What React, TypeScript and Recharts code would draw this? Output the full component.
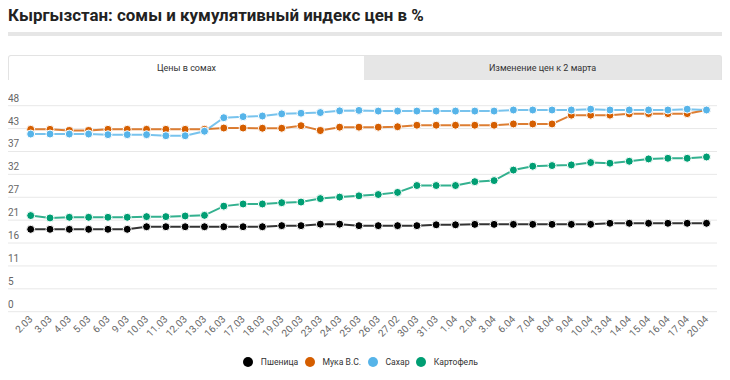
import React from "react";
import { LineChart, Line, XAxis, YAxis, CartesianGrid, Legend } from "recharts";

const dates = ["2.03","3.03","4.03","5.03","6.03","9.03","10.03","11.03","12.03","13.03","16.03","17.03","18.03","19.03","20.03","23.03","24.03","25.03","26.03","27.02","30.03","31.03","1.04","2.04","3.04","6.04","7.04","8.04","9.04","10.04","13.04","14.04","15.04","16.04","17.04","20.04"];

const wheat = [19.2,19.2,19.2,19.2,19.2,19.2,19.8,19.8,19.8,19.8,19.8,19.8,19.8,20.05,20.05,20.4,20.4,20.05,20.05,20.05,20.05,20.25,20.25,20.35,20.35,20.35,20.35,20.35,20.35,20.35,20.6,20.6,20.6,20.6,20.6,20.6];
const flour = [42.5,42.5,42.2,42.2,42.5,42.5,42.5,42.5,42.5,42.5,42.8,42.8,42.75,42.75,43.35,42.2,43.0,43.0,43.0,43.1,43.45,43.45,43.45,43.45,43.45,43.75,43.75,43.75,45.8,45.8,45.8,46.1,46.15,46.15,46.15,47.0];
const sugar = [41.4,41.4,41.4,41.4,41.25,41.25,41.25,41.0,41.0,42.05,45.2,45.45,45.6,46.1,46.25,46.4,46.8,46.9,46.75,46.75,46.75,46.75,46.75,46.75,46.75,47.0,47.0,47.0,47.0,47.2,47.0,47.0,47.0,47.0,47.2,47.0];
const potato = [22.4,21.85,22.0,22.0,22.0,22.0,22.15,22.15,22.3,22.45,24.6,25.1,25.1,25.4,25.55,26.35,26.7,27.0,27.3,27.8,29.4,29.4,29.4,30.3,30.55,33.0,33.9,34.05,34.2,34.75,34.6,35.05,35.6,35.75,35.75,36.05];

const yTicks = [0, 16 / 3, 32 / 3, 16, 64 / 3, 80 / 3, 32, 112 / 3, 128 / 3, 48];

const seriesKeys = ["wheat", "flour", "sugar", "potato"];
const seriesNames = ["Пшеница", "Мука В.С.", "Сахар", "Картофель"];
const seriesColors = ["#000000", "#d55e00", "#56b4e9", "#009e73"];
const tabLabels = ["Цены в сомах", "Изменение цен к 2 марта"];
const title = "Кыргызстан: сомы и кумулятивный индекс цен в %";

const data = dates.map((d, i) => ({
  date: d,
  wheat: wheat[i],
  flour: flour[i],
  sugar: sugar[i],
  potato: potato[i],
}));

const FONT = "Roboto, sans-serif";

const YTick = (props: any) => {
  const { y, payload } = props;
  return (
    <text x={0} y={y - 4} fontSize={10} fill="#666" fontFamily={FONT} textAnchor="start">
      {Math.round(payload.value)}
    </text>
  );
};

const XTick = (props: any) => {
  const { x, y, payload } = props;
  const bx = x + 2.5;
  const by = y + 8;
  return (
    <text
      x={bx}
      y={by}
      transform={`rotate(-45 ${bx} ${by})`}
      textAnchor="end"
      fontSize={10}
      fill="#666"
      fontFamily={FONT}
    >
      {payload.value}
    </text>
  );
};

const LegendContent = () => (
  <div
    style={{
      display: "flex",
      justifyContent: "center",
      alignItems: "center",
      height: 20,
      paddingRight: 3,
      fontFamily: FONT,
      fontSize: 8.6,
      color: "#333",
    }}
  >
    {seriesNames.map((n, i) => (
      <div key={n} style={{ display: "flex", alignItems: "center", marginRight: i < seriesNames.length - 1 ? 6.7 : 0 }}>
        <span
          style={{
            display: "inline-block",
            width: 10,
            height: 10,
            borderRadius: 5,
            background: seriesColors[i],
            marginRight: 7.7,
          }}
        />
        <span>{n}</span>
      </div>
    ))}
  </div>
);

export default function App() {
  return (
    <div style={{ position: "relative", width: 717, height: 364, fontFamily: FONT }}>
      <div
        style={{
          position: "absolute",
          left: 0,
          top: -1.5,
          fontSize: 16.9,
          lineHeight: "17px",
          fontWeight: 700,
          color: "#222",
          whiteSpace: "nowrap",
        }}
      >
        {title}
      </div>
      <div style={{ position: "absolute", left: 0, top: 24, width: 717, height: 4, background: "#e6e6e6" }} />
      <div
        style={{
          position: "absolute",
          left: 0,
          top: 47,
          width: 712,
          height: 24,
          border: "1px solid #e3e3e3",
          borderBottom: "none",
          borderRadius: "3px 3px 0 0",
          background: "#e6e6e6",
          display: "flex",
          overflow: "hidden",
        }}
      >
        <div
          style={{
            width: 355,
            height: 24,
            background: "#fff",
            display: "flex",
            alignItems: "center",
            justifyContent: "center",
            fontSize: 9,
            color: "#333",
          }}
        >
          {tabLabels[0]}
        </div>
        <div
          style={{
            flex: 1,
            height: 24,
            display: "flex",
            alignItems: "center",
            justifyContent: "center",
            fontSize: 9,
            color: "#333",
          }}
        >
          {tabLabels[1]}
        </div>
      </div>
      <div style={{ position: "absolute", left: 0, top: 72 }}>
        <LineChart width={717} height={292} data={data} margin={{ top: 25.7, right: 8, bottom: 0, left: -1 }}>
          <CartesianGrid vertical={false} stroke="#e8e8e8" strokeWidth={1} />
          <XAxis
            dataKey="date"
            interval={0}
            axisLine={false}
            tickLine={false}
            tickSize={0}
            tickMargin={0}
            height={40.3}
            padding={{ left: 22.7, right: 10.5 }}
            tick={<XTick />}
          />
          <YAxis
            domain={[0, 48]}
            ticks={yTicks}
            interval={0}
            width={1}
            axisLine={false}
            tickLine={false}
            tickSize={0}
            tickMargin={0}
            tick={<YTick />}
          />
          <Legend verticalAlign="bottom" height={20} content={<LegendContent />} />
          {seriesKeys.map((k, i) => (
            <Line
              key={k}
              type="linear"
              dataKey={k}
              name={seriesNames[i]}
              stroke={seriesColors[i]}
              strokeWidth={2}
              strokeOpacity={0.8}
              dot={{ r: 4, fill: seriesColors[i], stroke: "#fff", strokeWidth: 1, strokeOpacity: 1, fillOpacity: 1 }}
              activeDot={false}
              isAnimationActive={false}
            />
          ))}
        </LineChart>
      </div>
    </div>
  );
}
